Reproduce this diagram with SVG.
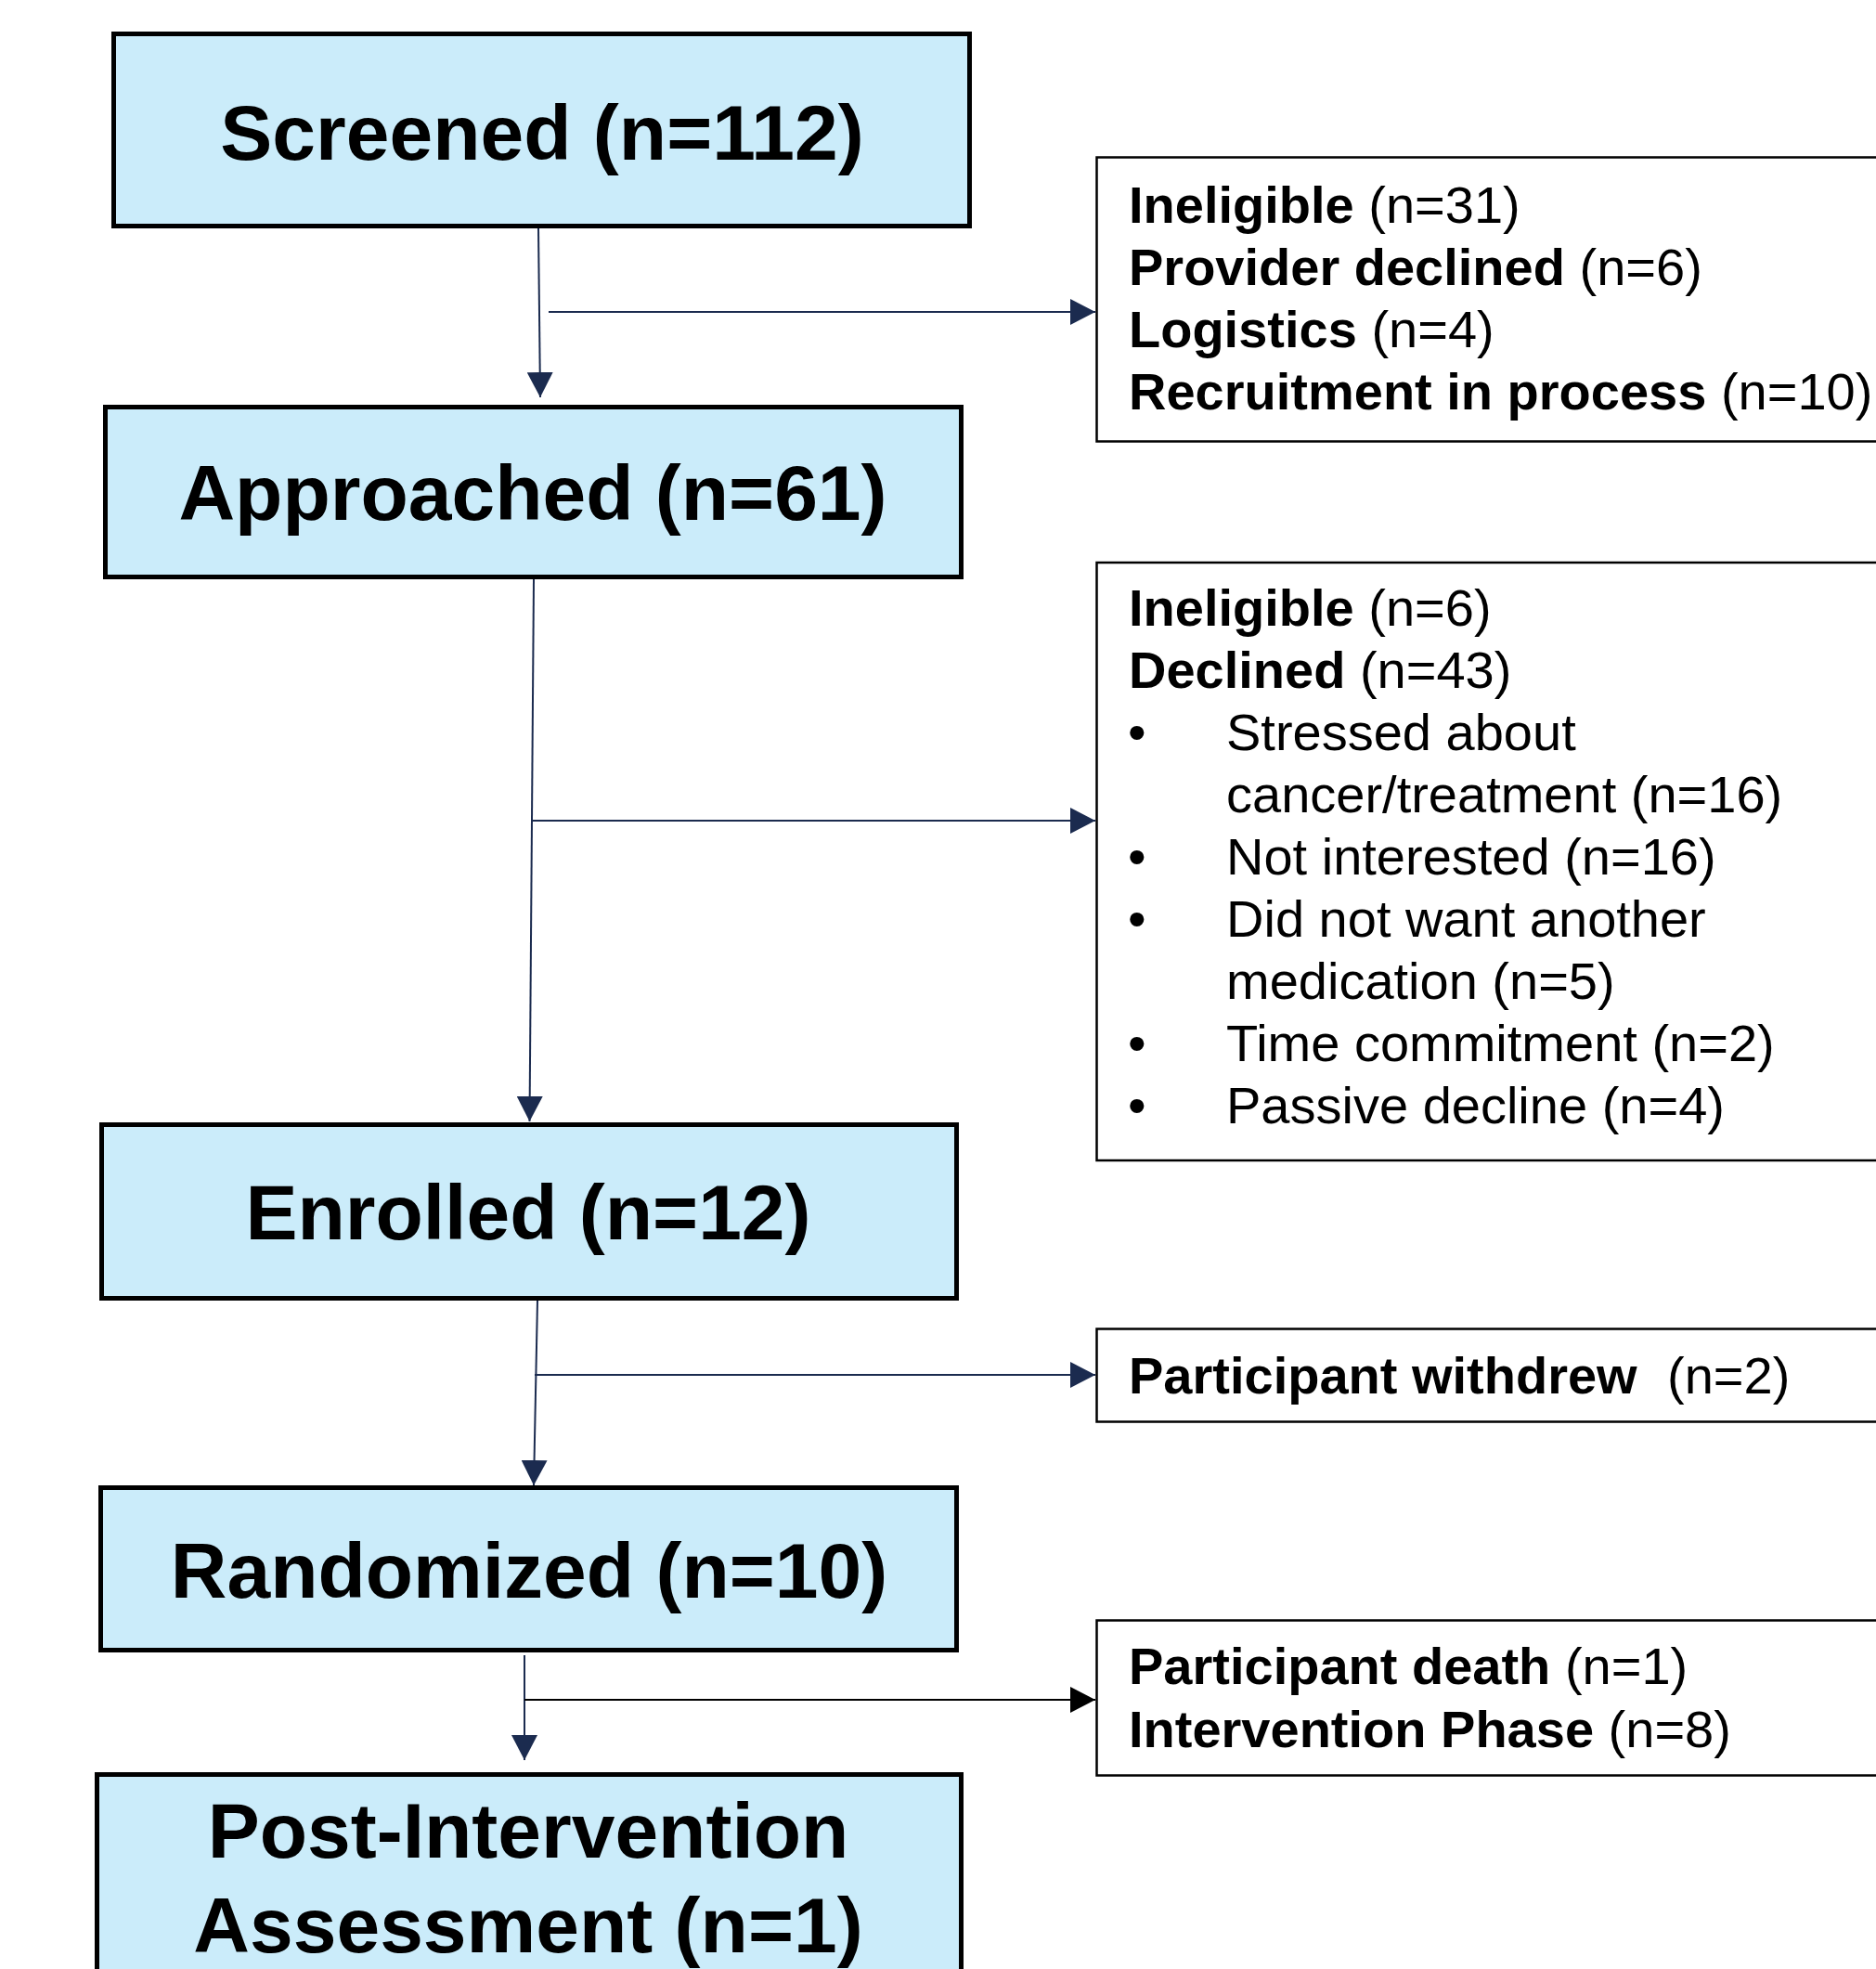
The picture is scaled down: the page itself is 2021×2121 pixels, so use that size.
<svg xmlns="http://www.w3.org/2000/svg" width="2021" height="2121" viewBox="0 0 2021 2121">
  <style>
    .main { fill: #CBECFA; stroke: #000; stroke-width: 5; }
    .side { fill: #FFFFFF; stroke: #000; stroke-width: 2.5; }
    .title { font-family: "Liberation Sans", Arial, sans-serif; font-weight: bold; font-size: 84px; fill: #000; text-anchor: middle; }
    .note { font-family: "Liberation Sans", Arial, sans-serif; font-size: 56px; fill: #000; }
    .b { font-weight: bold; }
    .conn { stroke: #1B2B4F; stroke-width: 2; fill: none; }
    .connk { stroke: #000; stroke-width: 2; fill: none; }
  </style>
  <defs>
    <marker id="arr" viewBox="0 0 27 28" refX="27" refY="14" markerWidth="27" markerHeight="28" markerUnits="userSpaceOnUse" orient="auto">
      <path d="M0,0 L27,14 L0,28 Z" fill="#1B2B4F"/>
    </marker>
    <marker id="arrk" viewBox="0 0 27 28" refX="27" refY="14" markerWidth="27" markerHeight="28" markerUnits="userSpaceOnUse" orient="auto">
      <path d="M0,0 L27,14 L0,28 Z" fill="#000"/>
    </marker>
  </defs>
  <rect width="2021" height="2121" fill="#FFFFFF"/>

  <g id="connectors">
    <line class="conn" x1="580" y1="246" x2="582" y2="428" marker-end="url(#arr)"/>
    <line class="conn" x1="591" y1="336" x2="1180" y2="336" marker-end="url(#arr)"/>
    <line class="conn" x1="575" y1="624" x2="570.5" y2="1208" marker-end="url(#arr)"/>
    <line class="conn" x1="573" y1="884" x2="1180" y2="884" marker-end="url(#arr)"/>
    <line class="conn" x1="579" y1="1401" x2="575" y2="1600" marker-end="url(#arr)"/>
    <line class="conn" x1="576" y1="1481" x2="1180" y2="1481" marker-end="url(#arr)"/>
    <line class="conn" x1="565" y1="1783" x2="565" y2="1896" marker-end="url(#arr)"/>
    <line class="connk" x1="565" y1="1831" x2="1180" y2="1831" marker-end="url(#arrk)"/>
  </g>

  <g id="screened">
    <rect class="main" x="122.5" y="36.5" width="922" height="207"/>
    <text class="title" x="584" y="172">Screened (n=112)</text>
  </g>

  <g id="approached">
    <rect class="main" x="113.5" y="438.5" width="922" height="183"/>
    <text class="title" x="574" y="560">Approached (n=61)</text>
  </g>

  <g id="enrolled">
    <rect class="main" x="109.5" y="1211.5" width="921" height="187"/>
    <text class="title" x="569" y="1335">Enrolled (n=12)</text>
  </g>

  <g id="randomized">
    <rect class="main" x="108.5" y="1602.5" width="922" height="175"/>
    <text class="title" x="570" y="1721">Randomized (n=10)</text>
  </g>

  <g id="post-intervention">
    <rect class="main" x="104.5" y="1911.5" width="931" height="300"/>
    <text class="title" x="569" y="2001">Post-Intervention</text>
    <text class="title" x="569" y="2103">Assessment (n=1)</text>
  </g>

  <g id="excluded-screening">
    <rect class="side" x="1181.5" y="169.5" width="880" height="306"/>
    <text class="note" x="1216" y="240"><tspan class="b">Ineligible</tspan> (n=31)</text>
    <text class="note" x="1216" y="307"><tspan class="b">Provider declined</tspan> (n=6)</text>
    <text class="note" x="1216" y="374"><tspan class="b">Logistics</tspan> (n=4)</text>
    <text class="note" x="1216" y="441"><tspan class="b">Recruitment in process</tspan> (n=10)</text>
  </g>

  <g id="excluded-approach">
    <rect class="side" x="1181.5" y="606" width="880" height="644"/>
    <text class="note" x="1216" y="674"><tspan class="b">Ineligible</tspan> (n=6)</text>
    <text class="note" x="1216" y="741"><tspan class="b">Declined</tspan> (n=43)</text>
    <text class="note" x="1215" y="808">•</text>
    <text class="note" x="1321" y="808">Stressed about</text>
    <text class="note" x="1321" y="875">cancer/treatment (n=16)</text>
    <text class="note" x="1215" y="942">•</text>
    <text class="note" x="1321" y="942">Not interested (n=16)</text>
    <text class="note" x="1215" y="1009">•</text>
    <text class="note" x="1321" y="1009">Did not want another</text>
    <text class="note" x="1321" y="1076">medication (n=5)</text>
    <text class="note" x="1215" y="1143">•</text>
    <text class="note" x="1321" y="1143">Time commitment (n=2)</text>
    <text class="note" x="1215" y="1210">•</text>
    <text class="note" x="1321" y="1210">Passive decline (n=4)</text>
  </g>

  <g id="withdrew">
    <rect class="side" x="1181.5" y="1431.5" width="880" height="100"/>
    <text class="note" x="1216" y="1501"><tspan class="b">Participant withdrew</tspan><tspan x="1796">(n=2)</tspan></text>
  </g>

  <g id="lost-intervention">
    <rect class="side" x="1181.5" y="1745.5" width="880" height="167"/>
    <text class="note" x="1216" y="1814"><tspan class="b">Participant death</tspan> (n=1)</text>
    <text class="note" x="1216" y="1882"><tspan class="b">Intervention Phase</tspan> (n=8)</text>
  </g>
</svg>
